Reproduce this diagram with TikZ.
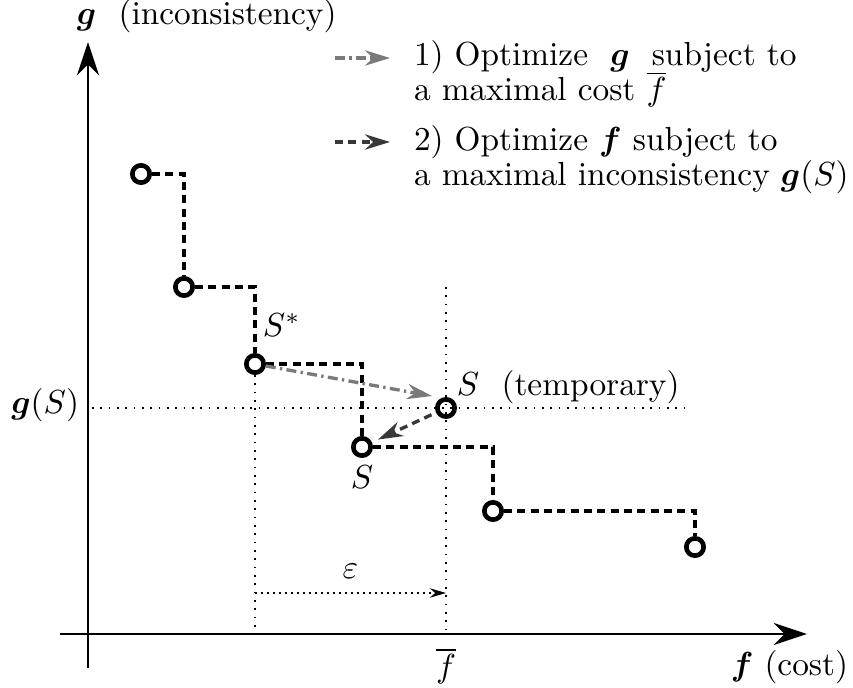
\documentclass[tikz,border=0pt]{standalone}
\usepackage{amsmath,amssymb}
\usetikzlibrary{positioning,arrows.meta}
\definecolor{optgray}{gray}{0.48}
\definecolor{optdark}{gray}{0.22}

\begin{document}
\begin{tikzpicture}[
  x=0.3pt, y=-0.3pt,
  font=\normalsize,
  axis/.style={-{Stealth[length=10pt,width=6.6pt]}, line width=0.65pt},
  sol/.style={circle, draw, line width=1.4pt, fill=white, minimum size=5.2pt, inner sep=0pt},
  stair/.style={line width=1.05pt, dash pattern=on 2.4pt off 1.6pt},
  guide/.style={dotted, line width=0.5pt},
  optone/.style={-{Stealth[length=7.5pt,width=4.6pt]}, optgray, line width=1pt, dash pattern=on 3pt off 1.3pt on 0.7pt off 1.3pt},
  opttwo/.style={-{Stealth[length=7.5pt,width=4.6pt]}, optdark, line width=1pt, dash pattern=on 2.4pt off 1.6pt},
  epsarr/.style={-{Stealth[length=4.8pt,width=2.8pt]}, line width=0.6pt, dash pattern=on 0.6pt off 1.2pt},
  lab/.style={inner sep=1pt},
  legtext/.style={inner sep=1pt, align=left}
]
\useasboundingbox (0,0) rectangle (853,688);
% axes
\coordinate (ybot) at (88,668);
\coordinate (ytop) at (88,42);
\coordinate (xleft) at (60,634);
\coordinate (xright) at (807,634);
\draw[axis] (ybot) -- (ytop);
\draw[axis] (xleft) -- (xright);
\node[lab, anchor=base west] (glab) at (73,25) {$\boldsymbol{g}$~~(inconsistency)};
\node[lab, anchor=base east] (flab) at (852,676) {$\boldsymbol{f}$~(cost)};
% solutions
\node[sol] (p1) at (141,174) {};
\node[sol] (p2) at (184,287) {};
\node[sol] (p3) at (255,364) {};
\node[sol, fill=none] (p4) at (446,408) {};
\node[sol] (p5) at (362,447) {};
\node[sol] (p6) at (493,511) {};
\node[sol] (p7) at (695,547) {};
\draw[stair] (p1) -| (p2);
\draw[stair] (p2) -| (p3);
\draw[stair] (p3) -| (p5);
\draw[stair] (p5) -| (p6);
\draw[stair] (p6) -| (p7);
% guides
\coordinate (gsl) at (92,408);
\coordinate (gsr) at (690,408);
\coordinate (fbtop) at (446,287);
\coordinate (fbax) at (446,634);
\coordinate (sax) at (255,634);
\draw[guide] (gsl) -- (gsr);
\draw[guide] (fbtop) -- (fbax);
\draw[guide] (p3) -- (sax);
\node[lab, anchor=east] (gslab) at (83,405) {$\boldsymbol{g}(S)$};
\node[lab, below=3pt of fbax] (fbarlab) {$\overline{f}$};
\coordinate (e0) at (255,593);
\coordinate (e1) at (446,593);
\draw[epsarr] (e0) -- node[lab, above=3pt] (eps) {$\varepsilon$} (e1);
% labels of solutions
\node[lab, anchor=base west] (sstar) at (259,337) {$S^*$};
\node[lab, anchor=base west] (stemp) at (453,396) {$S$~~(temporary)};
\node[lab, below=1pt of p5] (snew) {$S$};
% optimization steps
\coordinate (t1) at (432,396);
\draw[optone] (p3) -- (t1);
\draw[opttwo, shorten <=1.5pt, shorten >=2pt] (p4) -- (p5);
% legend
\coordinate (k1a) at (335,58);
\coordinate (k1b) at (390,58);
\coordinate (k2a) at (335,142);
\coordinate (k2b) at (390,142);
\draw[optone] (k1a) -- (k1b);
\draw[opttwo] (k2a) -- (k2b);
\node[legtext, anchor=base west] (leg1) at (410,101) {1) Optimize ~$\boldsymbol{g}$~ subject to\\[-1.3pt] a maximal cost $\overline{f}$};
\node[legtext, anchor=base west] (leg2) at (410,186) {2) Optimize $\boldsymbol{f}$ subject to\\[-1.3pt] a maximal inconsistency $\boldsymbol{g}(S)$};
\end{tikzpicture}
\end{document}
